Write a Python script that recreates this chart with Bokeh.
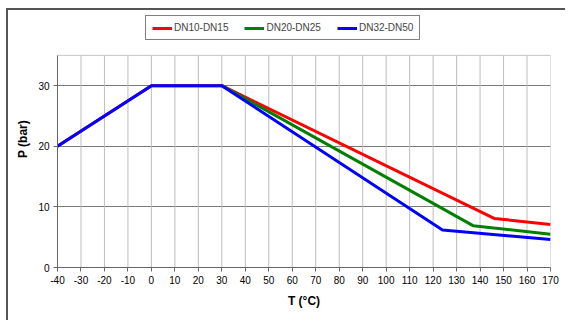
from bokeh.plotting import figure
from bokeh.models import Legend, LegendItem, FixedTicker, Range1d
from bokeh.embed import file_html
from bokeh.resources import INLINE

# Data
t_red = [-40, 0, 30, 146, 170]
p_red = [20, 30, 30, 8.1, 7.1]
t_green = [30, 137, 170]
p_green = [30, 6.9, 5.5]
t_blue = [-40, 0, 30, 124, 170]
p_blue = [20, 30, 30, 6.2, 4.6]
series_names = ["DN10-DN15", "DN20-DN25", "DN32-DN50"]
x_ticks = list(range(-40, 171, 10))
y_ticks = [0, 10, 20, 30]
x_min, x_max = -40, 170
y_min, y_max = 0, 35

FONT = "Liberation Sans"

p = figure(width=559, height=312, output_backend="svg", toolbar_location=None,
           x_range=Range1d(x_min, x_max), y_range=Range1d(y_min, 42.4),
           min_border_left=49, min_border_right=17, min_border_top=0, min_border_bottom=55)
p.styles = {"border-left": "2px solid #555555", "border-top": "2px solid #555555",
            "margin-left": "6px", "margin-top": "8px"}

p.outline_line_color = None

# vertical grid lines and top edge of plot box, limited to the data box
p.segment(x0=x_ticks, y0=[y_min] * len(x_ticks), x1=x_ticks, y1=[y_max] * len(x_ticks),
          line_color="#bdbdbd", line_width=1)
p.segment(x0=[x_min], y0=[y_max], x1=[x_max], y1=[y_max], line_color="#c4c4c4", line_width=1)

p.xgrid.grid_line_color = None
p.ygrid.ticker = FixedTicker(ticks=y_ticks)
p.ygrid.grid_line_color = "#7a7a7a"
p.ygrid.grid_line_width = 1

p.xaxis.ticker = FixedTicker(ticks=x_ticks)
p.xaxis.major_label_overrides = {t: str(t) for t in x_ticks}
p.yaxis.ticker = FixedTicker(ticks=y_ticks)
p.yaxis.bounds = (y_min, y_max)
for ax in (p.xaxis[0], p.yaxis[0]):
    ax.axis_line_color = "#666666"
    ax.major_tick_line_color = "#666666"
    ax.major_tick_out = 4
    ax.major_tick_in = 0
    ax.minor_tick_line_color = None
    ax.major_label_text_font = FONT
    ax.major_label_text_font_size = "10px"
    ax.major_label_text_color = "#000000"
    ax.axis_label_text_font = FONT
    ax.axis_label_text_font_size = "12px"
    ax.axis_label_text_font_style = "bold"
    ax.axis_label_text_color = "#000000"
p.xaxis.axis_label = "T (°C)"
p.yaxis.axis_label = "P (bar)"
p.xaxis.major_label_standoff = 4
p.xaxis.axis_label_standoff = 7
p.yaxis.major_label_standoff = 4
p.yaxis.axis_label_standoff = 5

r_red = p.line(t_red, p_red, line_color="#ff0000", line_width=3)
r_green = p.line(t_green, p_green, line_color="#008000", line_width=3)
r_blue = p.line(t_blue, p_blue, line_color="#0000ff", line_width=3)

legend = Legend(items=[LegendItem(label=series_names[0], renderers=[r_red]),
                       LegendItem(label=series_names[1], renderers=[r_green]),
                       LegendItem(label=series_names[2], renderers=[r_blue])],
                orientation="horizontal", location=(88, 227))
legend.label_text_font = FONT
legend.label_text_font_size = "10px"
legend.border_line_color = "#000000"
legend.border_line_width = 1
legend.glyph_width = 20
legend.glyph_height = 10
legend.label_standoff = 2
legend.spacing = 16
legend.padding = 6
legend.margin = 0
legend.label_height = 11
p.add_layout(legend, "center")

open("out.html", "w").write(file_html(p, INLINE))
